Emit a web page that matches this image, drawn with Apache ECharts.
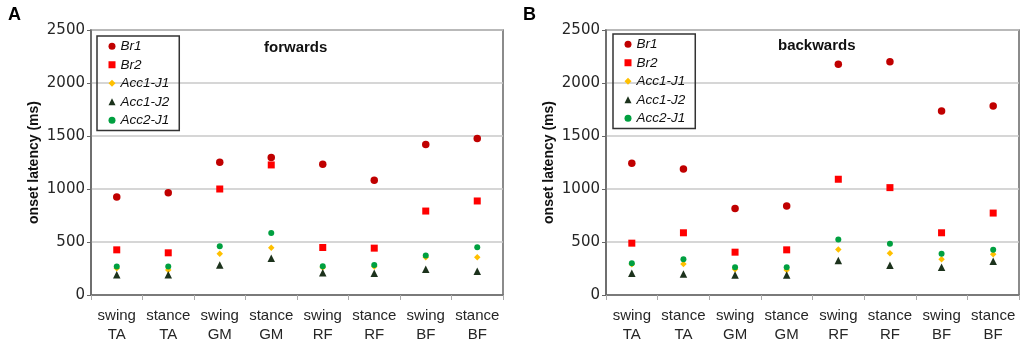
<!DOCTYPE html>
<html>
<head>
<meta charset="utf-8">
<script src="https://cdn.jsdelivr.net/npm/echarts@6/dist/echarts.min.js"></script>
<style>
  html, body { margin: 0; padding: 0; background: #fff; }
  #chart { width: 1022px; height: 342px; }
</style>
</head>
<body>
<div id="chart"></div>
<script>
// categories (phase / muscle)
const categories = ['swing\nTA', 'stance\nTA', 'swing\nGM', 'stance\nGM', 'swing\nRF', 'stance\nRF', 'swing\nBF', 'stance\nBF']
const seriesNames = ['Br1', 'Br2', 'Acc1-J1', 'Acc1-J2', 'Acc2-J1']

// A - forwards, onset latency (ms)
const fwdBr1 = [924, 965, 1253, 1297, 1234, 1082, 1420, 1476]
const fwdBr2 = [426, 398, 1000, 1227, 448, 442, 792, 887]
const fwdAcc1J1 = [252, 237, 388, 445, 259, 268, 357, 357]
const fwdAcc1J2 = [192, 192, 284, 347, 211, 205, 243, 224]
const fwdAcc2J1 = [268, 268, 461, 584, 271, 284, 372, 451]

// B - backwards, onset latency (ms)
const bwdBr1 = [1243, 1189, 817, 839, 2176, 2201, 1736, 1783]
const bwdBr2 = [489, 587, 404, 426, 1092, 1013, 587, 773]
const bwdAcc1J1 = [290, 293, 243, 237, 429, 394, 338, 385]
const bwdAcc1J2 = [205, 199, 189, 189, 325, 281, 262, 319]
const bwdAcc2J1 = [300, 338, 262, 262, 524, 483, 388, 426]

const markers = {
  'Br1': { symbol: 'circle', size: 7.5, color: '#c00000' },
  'Br2': { symbol: 'rect', size: 7, color: '#ff0000' },
  'Acc1-J1': { symbol: 'diamond', size: 6.5, color: '#ffc000' },
  'Acc1-J2': { symbol: 'triangle', size: 7.5, color: '#1c321c' },
  'Acc2-J1': { symbol: 'circle', size: 6, color: '#00a040' }
}

const fontSans = 'Liberation Sans, Arial, sans-serif'
const lineColor = '#666'

function makeXAxis (gridIndex) {
  return {
    type: 'category',
    gridIndex: gridIndex,
    data: categories,
    boundaryGap: true,
    axisLine: { show: true, lineStyle: { color: lineColor, width: 1.5 } },
    axisTick: { show: true, interval: 0, length: 5, lineStyle: { color: '#aaa' } },
    axisLabel: {
      interval: 0,
      fontFamily: fontSans,
      fontSize: 15,
      lineHeight: 19,
      margin: 11,
      color: '#262626'
    }
  }
}

function makeYAxis (gridIndex) {
  return {
    type: 'value',
    gridIndex: gridIndex,
    min: 0,
    max: 2500,
    interval: 500,
    name: 'onset latency (ms)',
    nameLocation: 'middle',
    nameRotate: 90,
    nameGap: 50,
    nameTextStyle: { fontFamily: fontSans, fontSize: 14, fontWeight: 'bold', color: '#111' },
    axisLine: { show: true, lineStyle: { color: lineColor, width: 1.5 } },
    axisTick: { show: true, length: 4, lineStyle: { color: lineColor } },
    axisLabel: {
      fontFamily: 'DejaVu Sans, sans-serif',
      fontSize: 15,
      margin: 6,
      color: '#262626',
      formatter: (v) => String(v)
    },
    splitLine: { lineStyle: { color: '#c8c8c8', width: 1.5 } }
  }
}

function makeSeries (gridIndex, values) {
  return seriesNames.map((name, i) => ({
    name: name,
    type: 'scatter',
    xAxisIndex: gridIndex,
    yAxisIndex: gridIndex,
    symbol: markers[name].symbol,
    symbolSize: markers[name].size,
    itemStyle: { color: markers[name].color, opacity: 1 },
    data: values[i]
  }))
}

function makeLegend (left, top) {
  return {
    orient: 'vertical',
    left: left,
    top: top,
    data: seriesNames,
    itemWidth: 7,
    itemHeight: 7,
    itemGap: 0,
    padding: [1, 10, 1, 11.5],
    borderColor: '#333',
    borderWidth: 1.5,
    selectedMode: false,
    itemStyle: { opacity: 1 },
    textStyle: { fontFamily: fontSans, fontStyle: 'italic', fontSize: 13.5, lineHeight: 18.5, color: '#111' }
  }
}

const options = {
  animation: false,
  backgroundColor: '#fff',
  title: [
    { text: 'A', left: 3, top: 1, textStyle: { fontFamily: fontSans, fontSize: 18, fontWeight: 'bold', color: '#000' } },
    { text: 'B', left: 518, top: 1, textStyle: { fontFamily: fontSans, fontSize: 18, fontWeight: 'bold', color: '#000' } },
    { text: 'forwards', left: 264, top: 40, padding: 0, textStyle: { fontFamily: fontSans, fontSize: 15, fontWeight: 'bold', color: '#111' } },
    { text: 'backwards', left: 778, top: 38, padding: 0, textStyle: { fontFamily: fontSans, fontSize: 15, fontWeight: 'bold', color: '#111' } }
  ],
  legend: [makeLegend(97, 36), makeLegend(613, 34)],
  grid: [
    { left: 91, top: 30, width: 412, height: 265, show: true, borderColor: lineColor, borderWidth: 1.5, outerBoundsMode: 'none', containLabel: false },
    { left: 606, top: 30, width: 413, height: 265, show: true, borderColor: lineColor, borderWidth: 1.5, outerBoundsMode: 'none', containLabel: false }
  ],
  xAxis: [makeXAxis(0), makeXAxis(1)],
  yAxis: [makeYAxis(0), makeYAxis(1)],
  series: [
    ...makeSeries(0, [fwdBr1, fwdBr2, fwdAcc1J1, fwdAcc1J2, fwdAcc2J1]),
    ...makeSeries(1, [bwdBr1, bwdBr2, bwdAcc1J1, bwdAcc1J2, bwdAcc2J1])
  ]
}

const myChart = echarts.init(document.getElementById('chart'))
myChart.setOption(options)
</script>
</body>
</html>
